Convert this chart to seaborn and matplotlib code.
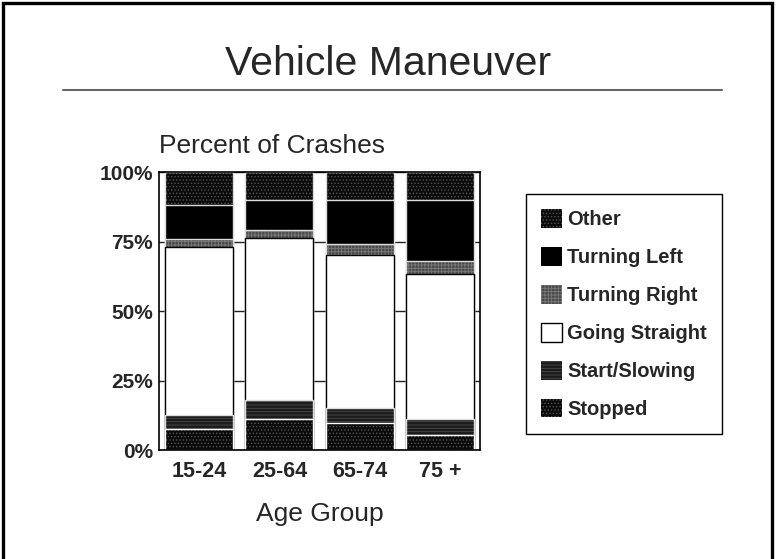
import numpy as np
import pandas as pd
import matplotlib
matplotlib.use('Agg')
import matplotlib.pyplot as plt
import seaborn as sns
from matplotlib.patches import Patch, Rectangle
from matplotlib.lines import Line2D
from matplotlib.ticker import PercentFormatter

groups = ['15-24', '25-64', '65-74', '75 +']
stopped = [7.8, 11.2, 9.8, 5.4]
start_slowing = [4.9, 6.9, 5.4, 5.8]
going_straight = [60.2, 58.2, 54.8, 52.2]
turning_right = [2.9, 2.8, 4.0, 4.7]
turning_left = [12.5, 11.0, 16.1, 22.0]
other = [11.7, 9.9, 9.9, 9.9]

# bottom -> top
layers = ['Stopped', 'Start/Slowing', 'Going Straight', 'Turning Right', 'Turning Left', 'Other']
df = pd.DataFrame({'Age Group': groups, 'Stopped': stopped, 'Start/Slowing': start_slowing,
                   'Going Straight': going_straight, 'Turning Right': turning_right,
                   'Turning Left': turning_left, 'Other': other})
cum = df[layers].cumsum(axis=1)
cum['Age Group'] = groups

# face, hatch, hatch colour, outline colour
styles = {
    'Other': ('#0a0a0a', '.....', '#555555', '#dddddd'),
    'Turning Left': ('#000000', None, '#000000', '#dddddd'),
    'Turning Right': ('#4a4a4a', '+++++', '#7a7a7a', '#dddddd'),
    'Going Straight': ('#ffffff', None, '#ffffff', '#000000'),
    'Start/Slowing': ('#1c1c1c', '-----', '#4a4a4a', '#dddddd'),
    'Stopped': ('#0a0a0a', '.....', '#555555', '#ffffff'),
}

sns.set_style('white')
plt.rcParams['font.family'] = ['Liberation Sans', 'DejaVu Sans']
plt.rcParams['hatch.linewidth'] = 0.6

fig = plt.figure(figsize=(7.76, 5.59), dpi=100)
ax = fig.add_axes([159/776, 1-450.3/559, 321/776, 278.3/559])
bar_w = 0.85

for name in layers[::-1]:
    face, hatch, hcol, ocol = styles[name]
    sns.barplot(data=cum, x='Age Group', y=name, order=groups, color=face, saturation=1,
                width=bar_w, hatch=hatch, edgecolor=hcol, linewidth=0, errorbar=None, ax=ax)
    n = len(ax.patches)
    sns.barplot(data=cum, x='Age Group', y=name, order=groups, color=face, saturation=1,
                width=bar_w, errorbar=None, ax=ax)
    for p in ax.patches[n:]:
        p.set_facecolor('none')
        p.set_edgecolor(ocol)
        p.set_linewidth(1.0)

ax.set_ylim(0, 100)
ax.set_xlim(-0.5, 3.5)
ax.set_yticks([0, 25, 50, 75, 100])
ax.yaxis.set_major_formatter(PercentFormatter(xmax=100, decimals=0))
ax.yaxis.grid(True, color='#222222', lw=1)
ax.set_axisbelow(True)
for s in ax.spines.values():
    s.set_visible(True)
    s.set_color('black')
    s.set_linewidth(1.2)

ax.tick_params(axis='y', length=2, pad=2.5, labelsize=15)
ax.tick_params(axis='x', length=0, pad=8, labelsize=15.5)
for lab in ax.get_xticklabels() + ax.get_yticklabels():
    lab.set_fontweight('bold')

ax.set_ylabel('')
ax.set_xlabel('Age Group', fontsize=19, labelpad=14)
ax.set_title('Percent of Crashes', loc='left', fontsize=19, pad=13.7)

handles = []
for name in layers[::-1]:
    face, hatch, hcol, ocol = styles[name]
    if name == 'Going Straight':
        handles.append(Patch(facecolor='white', edgecolor='black', linewidth=1, label=name))
    else:
        handles.append(Patch(facecolor=face, edgecolor=hcol, hatch=hatch, linewidth=0, label=name))
leg = fig.legend(handles=handles, loc='upper left', bbox_to_anchor=(526/776, 1-194/559),
                 bbox_transform=fig.transFigure, borderaxespad=0, frameon=True, fancybox=False,
                 edgecolor='black', framealpha=1, prop={'size': 14.5, 'weight': 'bold'},
                 handlelength=1.05, handleheight=1.05, handletextpad=0.25,
                 labelspacing=0.88, borderpad=0.75)
leg.get_frame().set_linewidth(1.0)

fig.text(0.5, 1-75/559, 'Vehicle Maneuver', ha='center', va='baseline', fontsize=29.5)
fig.add_artist(Line2D([63/776, 722/776], [1-90/559, 1-90/559], color='#666666', lw=1.5,
                      transform=fig.transFigure))
fig.add_artist(Rectangle((3/776, -0.1), 769/776, 1.1-3/559, transform=fig.transFigure,
                         fill=False, edgecolor='black', lw=2.4, clip_on=False))

fig.savefig('out.png', dpi=100)
